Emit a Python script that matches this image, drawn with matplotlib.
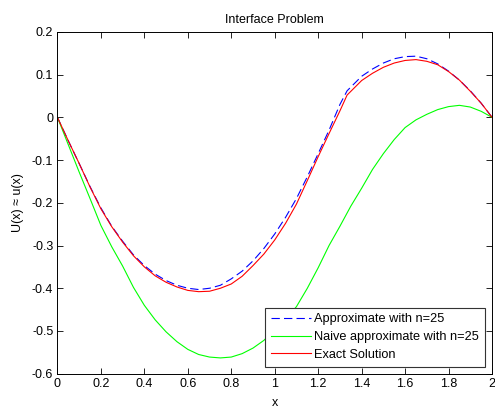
import numpy as np
import matplotlib
matplotlib.use('Agg')
import matplotlib.pyplot as plt
from matplotlib.ticker import FormatStrFormatter

plt.rcParams['font.family'] = ['Liberation Sans', 'DejaVu Sans']
plt.rcParams['font.size'] = 9
plt.rcParams['axes.unicode_minus'] = False
plt.rcParams['lines.scale_dashes'] = False

## values
x_pts = [0, 0.05, 0.1, 0.15, 0.2, 0.25, 0.3, 0.35, 0.4, 0.45, 0.5, 0.55, 0.6, 0.65, 0.7,
         0.75, 0.8, 0.85, 0.9, 0.95, 1.0, 1.05, 1.1, 1.15, 1.2, 1.25, 1.3, 1.333, 1.4,
         1.45, 1.5, 1.55, 1.6, 1.65, 1.7, 1.75, 1.8, 1.85, 1.9, 1.95, 2.0]
u_approx = [0, -0.055, -0.108, -0.162, -0.212, -0.255, -0.290, -0.322, -0.347, -0.367, -0.382,
            -0.393, -0.400, -0.403, -0.400, -0.393, -0.378, -0.360, -0.336, -0.307, -0.273,
            -0.234, -0.190, -0.139, -0.085, -0.030, 0.030, 0.062, 0.096, 0.113, 0.127,
            0.137, 0.142, 0.143, 0.137, 0.125, 0.108, 0.087, 0.062, 0.033, 0.0]
u_exact = [0, -0.055, -0.108, -0.163, -0.214, -0.256, -0.292, -0.324, -0.350, -0.371, -0.386,
           -0.397, -0.405, -0.408, -0.407, -0.400, -0.390, -0.372, -0.347, -0.320, -0.287,
           -0.248, -0.203, -0.148, -0.092, -0.038, 0.015, 0.052, 0.086, 0.103, 0.117,
           0.127, 0.133, 0.135, 0.131, 0.123, 0.107, 0.087, 0.061, 0.033, 0.0]

x_naive = [0, 0.05, 0.1, 0.15, 0.2, 0.25, 0.3, 0.35, 0.4, 0.45, 0.5, 0.55, 0.6, 0.65, 0.7,
           0.75, 0.8, 0.85, 0.9, 0.95, 1.0, 1.05, 1.1, 1.15, 1.2, 1.25, 1.3, 1.35, 1.4,
           1.45, 1.5, 1.55, 1.6, 1.65, 1.7, 1.75, 1.8, 1.85, 1.9, 1.95, 2.0]
u_naive = [0, -0.064, -0.128, -0.190, -0.253, -0.303, -0.348, -0.398, -0.440, -0.474, -0.502,
           -0.525, -0.543, -0.555, -0.561, -0.563, -0.561, -0.553, -0.540, -0.522, -0.497,
           -0.472, -0.443, -0.400, -0.352, -0.300, -0.255, -0.208, -0.166, -0.122, -0.085,
           -0.052, -0.024, -0.006, 0.007, 0.018, 0.025, 0.028, 0.024, 0.014, 0.0]

x_ticks = [0, 0.2, 0.4, 0.6, 0.8, 1.0, 1.2, 1.4, 1.6, 1.8, 2.0]
y_ticks = [-0.6, -0.5, -0.4, -0.3, -0.2, -0.1, 0, 0.1, 0.2]

fig = plt.figure(figsize=(4.95, 4.08), dpi=100)
ax = fig.add_axes([0.116, 0.084, 0.878, 0.838])

ax.plot(x_pts, u_approx, color='#0000ff', linestyle='--', dashes=(6, 3), lw=0.8,
        label='Approximate with n=25')
ax.plot(x_naive, u_naive, color='#00ff00', lw=0.8, label='Naive approximate with n=25')
ax.plot(x_pts, u_exact, color='#ff0000', lw=0.8, label='Exact Solution')

ax.set_xlim(0, 2)
ax.set_ylim(-0.6, 0.2)
ax.set_xticks(x_ticks)
ax.set_yticks(y_ticks)
ax.xaxis.set_major_formatter(FormatStrFormatter('%g'))
ax.yaxis.set_major_formatter(FormatStrFormatter('%g'))
ax.tick_params(direction='in', top=True, right=True, length=4, width=0.6, pad=3)
for s in ax.spines.values():
    s.set_linewidth(0.7)

ax.set_title('Interface Problem', fontsize=9, pad=6)
ax.set_xlabel('x', labelpad=5)
ax.set_ylabel('U(x) \u2248 u(x)', labelpad=6)

leg = ax.legend(loc='lower right', handlelength=3.1, labelspacing=0.45, borderpad=0.45,
                fancybox=False, framealpha=1, edgecolor='#333333', borderaxespad=0.55,
                handletextpad=0.3, fontsize=9.2)
leg.get_frame().set_linewidth(0.8)

fig.savefig('out.png', dpi=100)
